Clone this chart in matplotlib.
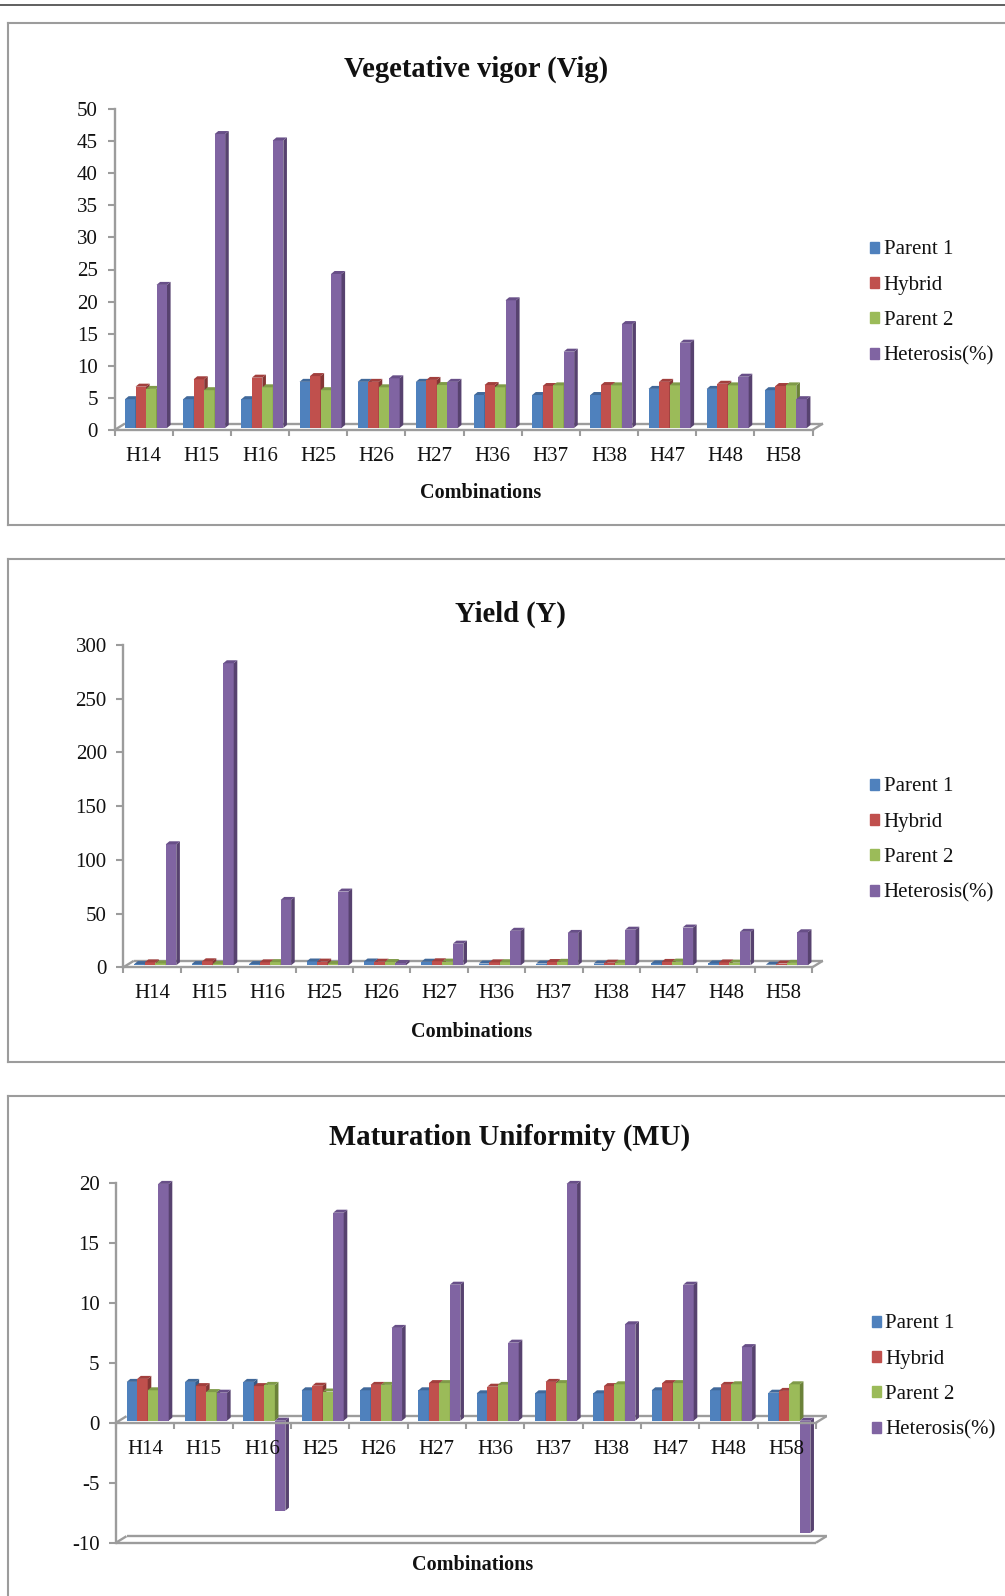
import matplotlib
matplotlib.use('Agg')
from matplotlib import pyplot as plt
from matplotlib.lines import Line2D
from matplotlib.patches import Patch, Polygon

plt.rcParams['font.family'] = ['Liberation Serif', 'DejaVu Serif']
plt.rcParams['axes.unicode_minus'] = False

W, H = 1005, 1596

combos = ['H14', 'H15', 'H16', 'H25', 'H26', 'H27', 'H36', 'H37', 'H38', 'H47', 'H48', 'H58']
series = ['Parent 1', 'Hybrid', 'Parent 2', 'Heterosis(%)']

vig_p1 = [4.8, 4.8, 4.8, 7.5, 7.5, 7.5, 5.45, 5.45, 5.45, 6.4, 6.4, 6.2]
vig_hy = [6.75, 7.9, 8.15, 8.4, 7.5, 7.8, 7.0, 6.85, 7.0, 7.5, 7.2, 6.85]
vig_p2 = [6.4, 6.2, 6.65, 6.2, 6.65, 7.0, 6.65, 6.95, 6.95, 6.95, 6.95, 6.95]
vig_het = [22.6, 46.1, 45.1, 24.3, 8.05, 7.5, 20.2, 12.2, 16.5, 13.6, 8.3, 4.8]

yld_p1 = [3.0, 3.0, 3.0, 5.4, 5.4, 5.2, 3.5, 3.5, 3.5, 3.6, 3.6, 2.4]
yld_hy = [4.6, 5.6, 4.6, 5.3, 5.2, 5.6, 4.6, 4.9, 4.3, 5.0, 4.5, 3.5]
yld_p2 = [3.6, 3.1, 4.8, 3.1, 4.9, 5.3, 4.7, 5.1, 4.1, 5.3, 4.3, 4.1]
yld_het = [114.5, 283, 62.7, 70.5, 4, 22, 34, 32, 35, 37, 33, 32.6]

mu_p1 = [3.4, 3.4, 3.4, 2.7, 2.7, 2.7, 2.45, 2.45, 2.45, 2.7, 2.7, 2.5]
mu_hy = [3.65, 3.05, 3.05, 3.08, 3.15, 3.3, 3.0, 3.4, 3.05, 3.3, 3.15, 2.65]
mu_p2 = [2.7, 2.55, 3.15, 2.6, 3.15, 3.3, 3.15, 3.3, 3.2, 3.3, 3.2, 3.2]
mu_het = [19.9, 2.5, -7.33, 17.5, 7.9, 11.5, 6.67, 19.9, 8.2, 11.5, 6.3, -9.2]

front = ['#4F81BD', '#C0504D', '#9BBB59', '#8064A2']
top = ['#41699A', '#A23F3D', '#7F9A48', '#684F88']
side = ['#375A85', '#853634', '#6B8239', '#57426F']
GRAY = '#9C9C9C'

fig = plt.figure(figsize=(W / 100, H / 100), dpi=100, facecolor='white')


def hline(x0, x1, y, color=GRAY, lw=1.5):
    fig.add_artist(Line2D([x0 / W, x1 / W], [1 - y / H, 1 - y / H], color=color, lw=lw))


def vline(x, y0, y1, color=GRAY, lw=1.5):
    fig.add_artist(Line2D([x / W, x / W], [1 - y0 / H, 1 - y1 / H], color=color, lw=lw))


def panel(x0, x1, y_top, y_low, ymin, ymax, yticks, values, start, label_pad):
    # y_low is the pixel row of ymin, y_top the pixel row of ymax
    ax = fig.add_axes([x0 / W, 1 - y_low / H, (x1 - x0) / W, (y_low - y_top) / H])
    ax.patch.set_visible(False)
    ax.set_xlim(0, 12)
    ax.set_ylim(ymin, ymax)

    px = 12 / (x1 - x0)
    py = (ymax - ymin) / (y_low - y_top)

    # floor of the 3d box, front edge is the axis line itself
    fx, fy = 10.5 * px, 6.5 * py
    floor = dict(color=GRAY, lw=1.7, clip_on=False, zorder=0.5, solid_capstyle='butt')
    ax.plot([0, fx], [0, fy], **floor)
    ax.plot([fx, 12 + fx], [fy, fy], **floor)
    ax.plot([12, 12 + fx], [0, fy], **floor)
    if ymin < 0:
        ax.plot([0, 12], [ymin, ymin], **floor)
        ax.plot([0, fx], [ymin, ymin + fy], **floor)
        ax.plot([fx, 12 + fx], [ymin + fy, ymin + fy], **floor)
        ax.plot([12, 12 + fx], [ymin, ymin + fy], **floor)

    # bars with a small extruded side and cap
    w = 10.5 * px
    dx, dy = 3.6 * px, 3 * py
    base = 2 * py
    for i in range(12):
        for s in range(4):
            v = values[s][i]
            x = i + start * px + s * w
            ax.bar(x, v - base, w, bottom=base, align='edge', color=front[s], zorder=1, clip_on=False)
            ax.add_patch(Polygon([(x + w, base), (x + w + dx, base + dy), (x + w + dx, v + dy), (x + w, v)],
                                 color=side[s], lw=0, zorder=1, clip_on=False))
            cap = max(v, base)
            ax.add_patch(Polygon([(x, cap), (x + dx, cap + dy), (x + w + dx, cap + dy), (x + w, cap)],
                                 color=top[s], lw=0, zorder=1, clip_on=False))

    ax.set_axisbelow(False)
    for name in ['top', 'right']:
        ax.spines[name].set_visible(False)
    ax.spines['left'].set_color(GRAY)
    ax.spines['left'].set_linewidth(1.7)
    ax.spines['bottom'].set_color(GRAY)
    ax.spines['bottom'].set_linewidth(1.7)
    ax.spines['bottom'].set_position(('data', 0))

    ax.set_yticks(yticks)
    ax.tick_params(axis='y', length=4.7, width=1.5, color=GRAY, pad=7.2, labelsize=15, labelcolor='#111111')
    ax.set_xticks(range(13))
    ax.set_xticklabels([])
    ax.set_xticks([i + 0.5 for i in range(12)], minor=True)
    ax.set_xticklabels(combos, minor=True)
    ax.tick_params(axis='x', which='major', length=4.5, width=1.5, color=GRAY)
    ax.tick_params(axis='x', which='minor', length=0, pad=label_pad, labelsize=15, labelcolor='#111111')
    return ax


def add_legend(ax, x, y):
    handles = [Patch(color=c) for c in front]
    ax.legend(handles, series, loc='upper left', bbox_to_anchor=(x / W, 1 - y / H),
              bbox_transform=fig.transFigure, frameon=False, fontsize=15, borderpad=0, borderaxespad=0,
              handlelength=0.44, handleheight=0.44, handletextpad=0.22, labelspacing=0.78, labelcolor='#111111')


def label(x, y, text, size):
    fig.text(x / W, 1 - y / H, text, ha='center', va='center', fontsize=size, fontweight='bold', color='#111111')


# top rule and the three frames, which run off the right edge
hline(0, W, 4.5, color='#444444', lw=1.2)
for y0, y1 in [(23, 525), (559, 1062)]:
    hline(8, W, y0)
    hline(8, W, y1)
    vline(8, y0, y1)
hline(8, W, 1096)
vline(8, 1096, H)

ax1 = panel(114.5, 812.5, 109, 430, 0, 50, list(range(0, 51, 5)),
            [vig_p1, vig_hy, vig_p2, vig_het], 10.5, 12.5)
add_legend(ax1, 870, 240.5)
label(476.5, 69.5, 'Vegetative vigor (Vig)', 20.6)
label(480.5, 493, 'Combinations', 14.5)

ax2 = panel(123.3, 812.3, 645, 967.3, 0, 300, list(range(0, 301, 50)),
            [yld_p1, yld_hy, yld_p2, yld_het], 11, 12)
add_legend(ax2, 870, 777.5)
label(510.5, 614.5, 'Yield (Y)', 20.6)
label(471.5, 1032, 'Combinations', 14.5)

ax3 = panel(116, 816, 1182.7, 1542.7, -10, 20, [-10, -5, 0, 5, 10, 15, 20],
            [mu_p1, mu_hy, mu_p2, mu_het], 10.7, 12.5)
add_legend(ax3, 871.5, 1314.5)
label(510, 1137, 'Maturation Uniformity (MU)', 20.7)
label(473, 1565, 'Combinations', 14.5)

fig.savefig('out.png', dpi=100)
